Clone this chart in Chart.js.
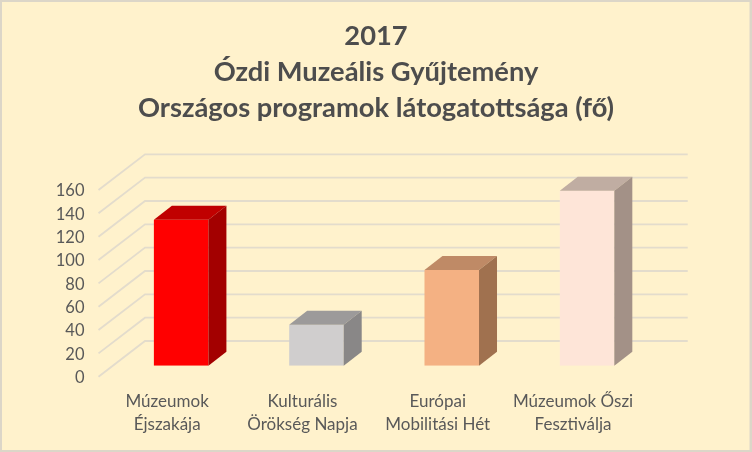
<!DOCTYPE html>
<html><head><meta charset="utf-8">
<style>html,body{margin:0;padding:0;background:#fff2cc}canvas{display:block}</style>
<script src="https://cdn.jsdelivr.net/npm/chart.js@4"></script>
</head><body><canvas id="c" width="752" height="452"></canvas>
<script>
const titleLines = ['2017', 'Ózdi Muzeális Gyűjtemény', 'Országos programok látogatottsága (fő)'];
const categories = [['Múzeumok', 'Éjszakája'], ['Kulturális', 'Örökség Napja'], ['Európai', 'Mobilitási Hét'], ['Múzeumok Őszi', 'Fesztiválja']];
const visitors = [125, 35, 82, 150];
const frontColors = ['#ff0000', '#d0cece', '#f4b183', '#fee5d8'];
const topColors = ['#c00000', '#9c9a9a', '#bf8a66', '#c0ada2'];
const sideColors = ['#a30000', '#898787', '#a0714f', '#a39187'];
const gridColor = '#e3dccc';
const font = '"Lato","Open Sans",sans-serif';

const frame = {
  id: 'frame',
  beforeDraw(ch) {
    const c = ch.ctx;
    c.save();
    c.fillStyle = '#fff2cc'; c.fillRect(0, 0, 752, 452);
    c.strokeStyle = '#dcd6c8'; c.lineWidth = 3; c.strokeRect(0.5, 0.5, 750.5, 451);
    c.restore();
  }
};
const walls = {
  id: 'walls',
  beforeDatasetsDraw(ch) {
    const c = ch.ctx, y = ch.scales.y, a = ch.chartArea;
    c.save(); c.strokeStyle = gridColor; c.lineWidth = 1.8;
    y.ticks.forEach(t => {
      const p = y.getPixelForValue(t.value);
      c.beginPath();
      c.moveTo(a.left - 15, p + 11);
      c.lineTo(a.left + 31.5, p - 24.7);
      c.lineTo(a.right + 33, p - 24.7);
      c.stroke();
    });
    c.restore();
  }
};
const depth = {
  id: 'depth',
  afterDatasetsDraw(ch) {
    const c = ch.ctx, dx = 18, dy = 14;
    ch.getDatasetMeta(0).data.forEach((b, i) => {
      const l = b.x - b.width / 2, r = b.x + b.width / 2, t = b.y, m = b.base;
      c.fillStyle = topColors[i];
      c.beginPath(); c.moveTo(l, t); c.lineTo(l + dx, t - dy); c.lineTo(r + dx, t - dy); c.lineTo(r, t); c.closePath(); c.fill();
      c.fillStyle = sideColors[i];
      c.beginPath(); c.moveTo(r, t); c.lineTo(r + dx, t - dy); c.lineTo(r + dx, m - dy); c.lineTo(r, m); c.closePath(); c.fill();
    });
  }
};
new Chart(document.getElementById('c'), {
  type: 'bar',
  data: { labels: categories, datasets: [{ data: visitors, backgroundColor: frontColors, borderWidth: 0, categoryPercentage: 1, barPercentage: 0.403 }] },
  plugins: [frame, walls, depth],
  options: {
    responsive: false, animation: false,
    plugins: {
      legend: { display: false }, tooltip: { enabled: false },
      title: { display: true, text: titleLines, color: '#4d4d4d', font: { family: font, size: 27.3, weight: 'bold', lineHeight: 36 / 27.3 }, padding: { top: 18, bottom: 53 } }
    },
    scales: {
      x: {
        grid: { display: false }, border: { display: false },
        ticks: { color: '#595959', font: { family: font, size: 17, lineHeight: 23 / 17 }, padding: 16, labelOffset: -14, maxRotation: 0, autoSkip: false },
        afterFit(s) { s.height = 86.3; }
      },
      y: {
        min: 0, max: 160,
        grid: { display: false }, border: { display: false },
        ticks: { stepSize: 20, color: '#595959', font: { family: font, size: 16.5 }, padding: 21, labelOffset: 12 },
        afterFit(s) { s.width = 113.5; }
      },
      spacer: {
        position: 'right', min: 0, max: 1,
        grid: { display: false }, border: { display: false },
        ticks: { display: false },
        afterFit(s) { s.width = 97.3; }
      }
    }
  }
});
</script></body></html>
